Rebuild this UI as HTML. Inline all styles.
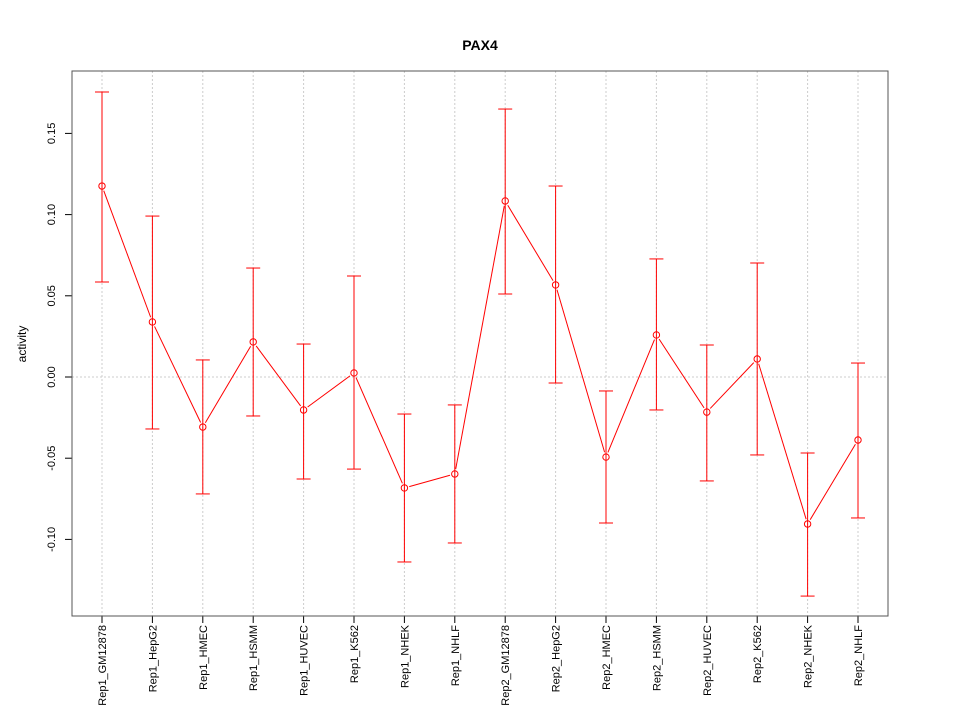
<!DOCTYPE html>
<html><head><meta charset="utf-8"><style>body{margin:0;background:#fff}svg{display:block}text{font-family:"Liberation Sans",sans-serif}</style></head>
<body>
<svg id="c" width="960" height="720"></svg>
<script>
const categories=["Rep1_GM12878","Rep1_HepG2","Rep1_HMEC","Rep1_HSMM","Rep1_HUVEC","Rep1_K562","Rep1_NHEK","Rep1_NHLF","Rep2_GM12878","Rep2_HepG2","Rep2_HMEC","Rep2_HSMM","Rep2_HUVEC","Rep2_K562","Rep2_NHEK","Rep2_NHLF"];
const means=[0.1176,0.0339,-0.0308,0.0216,-0.0203,0.0025,-0.0683,-0.0597,0.1084,0.0567,-0.0493,0.0259,-0.0216,0.0111,-0.0905,-0.0388];
const upper=[0.1755,0.0991,0.0105,0.0671,0.0203,0.0622,-0.0228,-0.0172,0.165,0.1176,-0.0086,0.0727,0.0197,0.0702,-0.0468,0.0086];
const lower=[0.0585,-0.032,-0.072,-0.024,-0.0628,-0.0567,-0.1139,-0.1022,0.0511,-0.0037,-0.0899,-0.0203,-0.064,-0.048,-0.1349,-0.0868];
const yTicks=[-0.10,-0.05,0.00,0.05,0.10,0.15];
const yTickLabels=["-0.10","-0.05","0.00","0.05","0.10","0.15"];
const NS="http://www.w3.org/2000/svg",svg=document.getElementById('c');
const L=72,R=888,T=71,B=616;
const x=i=>102+i*(858-102)/(categories.length-1);
const y=v=>377-v*1624;
function mk(t,a,p){const e=document.createElementNS(NS,t);for(const k in a)e.setAttribute(k,a[k]);(p||svg).appendChild(e);return e;}
let e;
e=mk('text',{x:480,y:50,'text-anchor':'middle','font-size':14,'font-weight':'bold'});e.textContent='PAX4';


e=mk('text',{x:26,y:344,'text-anchor':'middle','font-size':12,transform:'rotate(-90 26 344)'});e.textContent='activity';


categories.forEach((c,i)=>{
 e=mk('line',{x1:x(i),x2:x(i),y1:T,y2:B,stroke:'#ccc','stroke-dasharray':'2,2'});
 
 
 mk('line',{x1:x(i),x2:x(i),y1:B,y2:B+7,stroke:'#000'});
 e=mk('text',{x:0,y:0,'text-anchor':'end','font-size':11,transform:`translate(${x(i)+4},${B+9}) rotate(-90)`});e.textContent=c;
 
 
});
e=mk('line',{x1:L,x2:R,y1:y(0),y2:y(0),stroke:'#ccc','stroke-dasharray':'2,2'});


yTicks.forEach((t,i)=>{
 mk('line',{x1:L-7,x2:L,y1:y(t),y2:y(t),stroke:'#000'});
 e=mk('text',{x:0,y:0,'text-anchor':'middle','font-size':11,transform:`translate(${L-17},${y(t)}) rotate(-90)`});e.textContent=yTickLabels[i];
 
 
});
e=mk('rect',{x:L,y:T,width:R-L,height:B-T,fill:'none',stroke:'#555'});


categories.forEach((c,i)=>{
 const g=mk('g',{stroke:'#f00','stroke-width':1,fill:'none'});
 
 
 mk('line',{x1:x(i),x2:x(i),y1:y(upper[i]),y2:y(lower[i])},g);
 mk('line',{x1:x(i)-7,x2:x(i)+7,y1:y(upper[i]),y2:y(upper[i])},g);
 mk('line',{x1:x(i)-7,x2:x(i)+7,y1:y(lower[i]),y2:y(lower[i])},g);
});
for(let i=0;i<means.length-1;i++){
 const x1=x(i),y1=y(means[i]),x2=x(i+1),y2=y(means[i+1]);
 const d=Math.hypot(x2-x1,y2-y1),ux=(x2-x1)/d,uy=(y2-y1)/d,g=5;
 e=mk('line',{x1:x1+ux*g,y1:y1+uy*g,x2:x2-ux*g,y2:y2-uy*g,stroke:'#f00'});
 
 
}
means.forEach((m,i)=>{
 e=mk('circle',{cx:x(i),cy:y(m),r:3.2,fill:'none',stroke:'#f00'});
 
 
});
</script>
</body></html>
